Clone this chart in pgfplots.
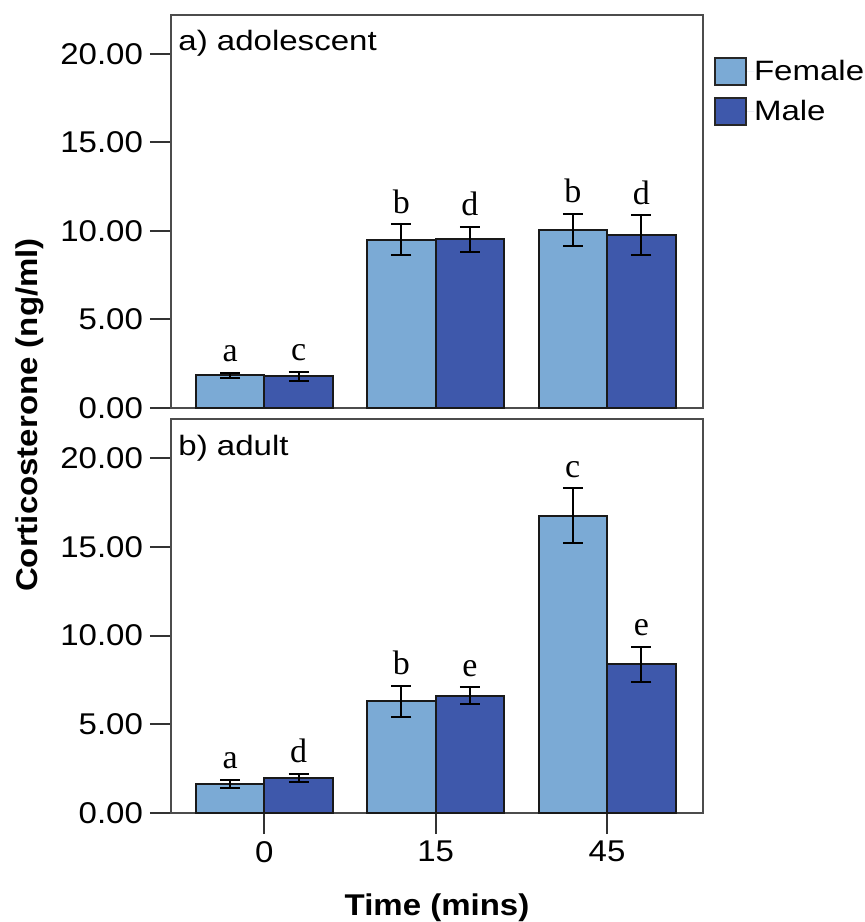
\documentclass[border=0pt]{standalone}
\usepackage{pgfplots}
\usepackage{pgfplotstable}
\pgfplotsset{compat=1.18}
\usepackage{fontspec}
\setmainfont{Liberation Sans}
\newfontfamily\tickf[FakeStretch=1.1]{Liberation Sans}
\newfontfamily\titf[FakeStretch=1.18]{Liberation Sans}
\newfontfamily\serf{Liberation Serif}
\definecolor{femc}{RGB}{123,170,213}
\definecolor{malc}{RGB}{62,88,171}

\pgfplotstableread{
x F Ferr Flab M Merr Mlab
0 1.86 0.14 a 1.78 0.27 c
1 9.50 0.87 b 9.52 0.73 d
2 10.05 0.92 b 9.75 1.13 d
}\adol
\pgfplotstableread{
x F Ferr Flab M Merr Mlab
0 1.64 0.23 a 1.98 0.22 d
1 6.30 0.87 b 6.62 0.48 e
2 16.74 1.55 c 8.37 1.00 e
}\adult

\tikzset{ptitle/.style={anchor=base west, inner sep=0pt, font=\titf\fontsize{14pt}{16pt}\selectfont}}
\pgfplotsset{
  panel/.style={
    scale only axis, width=266pt,
    xmin=-0.545, xmax=2.56, ymin=0, ymax=22.2,
    ytick={0,5,10,15,20},
    scaled y ticks=false,
    /pgf/number format/fixed, /pgf/number format/fixed zerofill,
    /pgf/number format/precision=2,
    /pgf/number format/assume math mode=true,
    tick label style={font=\tickf\fontsize{15pt}{18pt}\selectfont, text=black},
    axis line style={draw=black!70, line width=1pt},
    tick align=outside, major tick length=10.5pt,
    major tick style={draw=black!80, line width=1pt},
    xtick pos=left, ytick pos=left,
    clip=false,
  },
  errs/.style={
    error bars/y dir=both, error bars/y explicit,
    error bars/error bar style={line width=1pt, black},
    error bars/error mark options={rotate=90, line width=1pt, black, mark size=5pt}},
  fbar/.style={ybar, bar width=0.4, bar shift=0pt, fill=femc, draw=black!90, line width=1pt, errs},
  mbar/.style={ybar, bar width=0.4, bar shift=0pt, fill=malc, draw=black!90, line width=1pt, errs},
  letters/.style={draw=none, mark=none, forget plot, nodes near coords,
    point meta=explicit symbolic,
    every node near coord/.append style={anchor=base, yshift=5.5pt, inner sep=0pt,
      font=\serf\fontsize{17pt}{20pt}\selectfont, text=black}},
}

\begin{document}
\begin{tikzpicture}
\useasboundingbox (-85.5pt,7.5pt) rectangle (347pt,-453.5pt);
\begin{axis}[panel, name=top, at={(0,0)}, anchor=north west, height=196.5pt,
  xtick=\empty,
  legend style={at={(rel axis cs:1,1)}, anchor=north west, xshift=5.5pt, yshift=-21pt,
    draw=none, fill=none, inner sep=0pt, outer sep=0pt, row sep=5.5pt,
    font=\titf\fontsize{14pt}{16pt}\selectfont, nodes={inner sep=0pt}},
  legend cell align=left,
]
\addplot[fbar, legend image code/.code={\path[draw=none] (0pt,0pt) -- (19.5pt,0pt);
  \draw[fill=femc, draw=black!85, line width=1pt] (0pt,-6.75pt) rectangle (15.5pt,6.75pt);}]
  table[x expr=\thisrow{x}-0.2, y=F, y error=Ferr] {\adol};
\addlegendentry{Female}
\addplot[mbar, legend image code/.code={\path[draw=none] (0pt,0pt) -- (19.5pt,0pt);
  \draw[fill=malc, draw=black!85, line width=1pt] (0pt,-6.75pt) rectangle (15.5pt,6.75pt);}]
  table[x expr=\thisrow{x}+0.2, y=M, y error=Merr] {\adol};
\addlegendentry{Male}
\addplot[letters] table[x expr=\thisrow{x}-0.2, y expr=\thisrow{F}+\thisrow{Ferr}, meta=Flab] {\adol};
\addplot[letters] table[x expr=\thisrow{x}+0.2, y expr=\thisrow{M}+\thisrow{Merr}, meta=Mlab] {\adol};
\node[ptitle, xshift=3.5pt, yshift=-17.5pt] at (rel axis cs:0,1) {a) adolescent};
\end{axis}

\begin{axis}[panel, name=bot, at={(0,-202pt)}, anchor=north west, height=197pt,
  xtick={0,1,2}, xticklabels={0,15,45},
]
\addplot[fbar] table[x expr=\thisrow{x}-0.2, y=F, y error=Ferr] {\adult};
\addplot[mbar] table[x expr=\thisrow{x}+0.2, y=M, y error=Merr] {\adult};
\addplot[letters] table[x expr=\thisrow{x}-0.2, y expr=\thisrow{F}+\thisrow{Ferr}, meta=Flab] {\adult};
\addplot[letters] table[x expr=\thisrow{x}+0.2, y expr=\thisrow{M}+\thisrow{Merr}, meta=Mlab] {\adult};
\node[ptitle, xshift=3.5pt, yshift=-18pt] at (rel axis cs:0,1) {b) adult};
\node[anchor=base, inner sep=0pt, yshift=-51pt, font=\tickf\bfseries\fontsize{15pt}{18pt}\selectfont]
  at (rel axis cs:0.5,0) {Time (mins)};
\end{axis}

\node[rotate=90, anchor=base, inner sep=0pt, font=\tickf\bfseries\fontsize{15pt}{18pt}\selectfont]
  at (-66.9pt,-200pt) {Corticosterone (ng/ml)};
\end{tikzpicture}
\end{document}
